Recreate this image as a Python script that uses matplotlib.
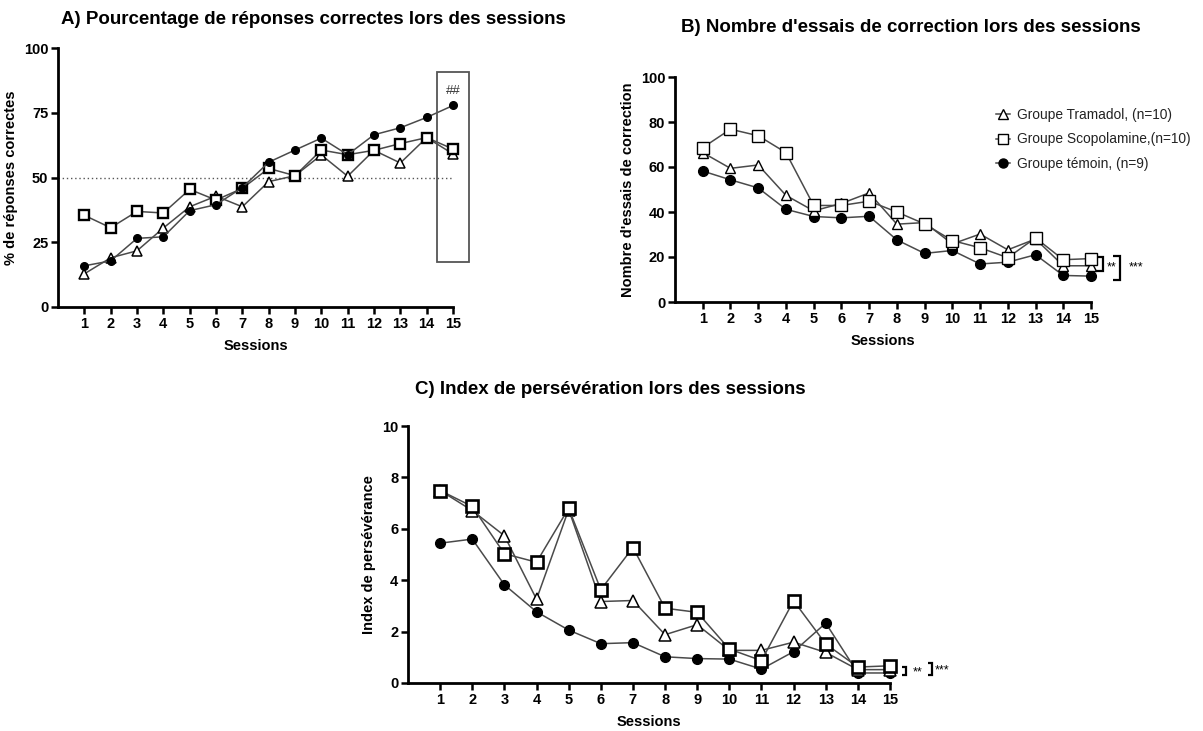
import matplotlib
matplotlib.use("Agg")
import matplotlib.pyplot as plt
from matplotlib.patches import Rectangle

plt.rcParams['font.family'] = ['Liberation Sans', 'DejaVu Sans']

sessions = list(range(1, 16))

# A) % correct responses
a_temoin = [15.9, 17.8, 26.5, 27.1, 37.2, 39.5, 46.1, 55.9, 60.6, 65.2, 58.8, 66.5, 69.2, 73.2, 77.8]
a_scopo = [35.4, 30.6, 36.9, 36.3, 45.4, 41.3, 45.8, 53.5, 50.7, 60.6, 58.8, 60.5, 63.1, 65.4, 61.0]
a_trama = [12.8, 19.0, 21.7, 30.5, 38.7, 42.8, 38.7, 48.4, 50.7, 58.7, 50.5, 60.5, 55.6, 65.4, 59.1]

# B) correction trials
b_temoin = [58.2, 54.3, 50.7, 41.2, 38.0, 37.4, 38.1, 27.6, 21.6, 22.9, 16.9, 17.7, 21.0, 11.8, 11.5]
b_scopo = [68.6, 76.8, 73.9, 66.4, 42.9, 42.9, 44.8, 40.0, 34.7, 27.3, 24.1, 19.7, 28.5, 18.8, 19.3]
b_trama = [66.4, 59.4, 60.9, 47.4, 40.5, 43.8, 48.5, 34.6, 35.3, 25.8, 30.2, 23.2, 28.0, 16.1, 16.1]

# C) perseveration index
c_temoin = [5.44, 5.60, 3.82, 2.77, 2.06, 1.53, 1.57, 1.02, 0.95, 0.93, 0.54, 1.22, 2.33, 0.39, 0.39]
c_scopo = [7.49, 6.87, 5.03, 4.70, 6.80, 3.63, 5.27, 2.91, 2.75, 1.32, 0.87, 3.20, 1.52, 0.62, 0.67]
c_trama = [7.49, 6.71, 5.73, 3.26, 6.75, 3.17, 3.21, 1.88, 2.27, 1.27, 1.27, 1.59, 1.19, 0.52, 0.52]

labels = ["Groupe Tramadol, (n=10)", "Groupe Scopolamine,(n=10)", "Groupe témoin, (n=9)"]

W, H = 1203, 731
fig = plt.figure(figsize=(W / 100, H / 100), dpi=100)


def px_axes(left, right, top, bottom):
    return fig.add_axes([left / W, 1 - bottom / H, (right - left) / W, (bottom - top) / H])


def style(ax, ymax, ystep, ylabel):
    ax.set_xlim(0, 15)
    ax.set_ylim(0, ymax)
    ax.set_xticks(sessions)
    ax.set_yticks(range(0, ymax + 1, ystep))
    for s in ['top', 'right']:
        ax.spines[s].set_visible(False)
    for s in ['left', 'bottom']:
        ax.spines[s].set_linewidth(2.0)
    ax.tick_params(width=1.8, length=5, labelsize=10.5, pad=2)
    for t in ax.get_xticklabels() + ax.get_yticklabels():
        t.set_fontweight('bold')
    ax.set_xlabel("Sessions", fontsize=10.5, fontweight='bold', labelpad=6)
    ax.set_ylabel(ylabel, fontsize=10.5, fontweight='bold', labelpad=4)


LC = '#4a4a4a'
common = dict(clip_on=False)

# ---------- Panel A ----------
axA = px_axes(58, 453, 48, 307)
axA.hlines(50, 0, 15, colors='#555555', linestyles=(0, (1, 2)), linewidth=1.0, zorder=1)
axA.plot(sessions, a_trama, '-', color=LC, lw=1.1, marker='^', ms=7, mfc='white', mec='black', mew=1.1, zorder=3, **common)
axA.plot(sessions, a_scopo, '-', color=LC, lw=1.1, marker='s', ms=7, mfc='white', mec='black', mew=1.7, zorder=4, **common)
axA.plot(sessions, a_temoin, '-', color=LC, lw=1.1, marker='o', ms=5.5, mfc='black', mec='black', zorder=5, **common)
axA.add_patch(Rectangle((14.4, 17.2), 1.22, 73.5, fill=False, ec='#555555', lw=1.3, clip_on=False, zorder=6))
axA.text(15.0, 83.5, "##", ha='center', va='center', fontsize=9.5, color='#333333')
style(axA, 100, 25, "% de réponses correctes")
fig.text(61 / W, 1 - 20 / H, "A) Pourcentage de réponses correctes lors des sessions",
         ha='left', va='center', fontsize=13.5, fontweight='bold')

# ---------- Panel B ----------
axB = px_axes(675, 1091, 77, 302)
lB1, = axB.plot(sessions, b_temoin, '-', color=LC, lw=1.1, marker='o', ms=7, mfc='black', mec='black', zorder=3, **common)
lB2, = axB.plot(sessions, b_trama, '-', color=LC, lw=1.1, marker='^', ms=7.5, mfc='white', mec='black', mew=1.0, zorder=4, **common)
lB3, = axB.plot(sessions, b_scopo, '-', color=LC, lw=1.1, marker='s', ms=8, mfc='white', mec='black', mew=1.0, zorder=5, **common)
style(axB, 100, 20, "Nombre d'essais de correction")
leg = axB.legend([lB2, lB3, lB1], labels, loc='upper left', bbox_to_anchor=((996 - 675) / 416, 1 - (108 - 77) / 225),
                 frameon=False, fontsize=9.9, handlelength=1.0, handletextpad=0.55, labelspacing=0.75,
                 borderaxespad=0, borderpad=0, labelcolor='#222222')
for ln in leg.get_lines():
    ln.set_markersize(6.5)
# brackets B
kw = dict(color='black', lw=1.6, clip_on=False, solid_joinstyle='miter', solid_capstyle='butt')
axB.plot([15.17, 15.42, 15.42, 15.17], [20.0, 20.0, 13.8, 13.8], **kw)
axB.plot([15.81, 16.06, 16.06, 15.81], [20.4, 20.4, 9.8, 9.8], **kw)
axB.text(15.75, 15.2, "**", ha='center', va='center', fontsize=9)
axB.text(16.35, 15.2, "***", ha='left', va='center', fontsize=9)
fig.text(681 / W, 1 - 27 / H, "B) Nombre d'essais de correction lors des sessions",
         ha='left', va='center', fontsize=13.5, fontweight='bold')

# ---------- Panel C ----------
axC = px_axes(408, 890, 426, 683)
axC.plot(sessions, c_temoin, '-', color=LC, lw=1.1, marker='o', ms=7, mfc='black', mec='black', zorder=3, **common)
axC.plot(sessions, c_trama, '-', color=LC, lw=1.1, marker='^', ms=8, mfc='white', mec='black', mew=1.1, zorder=4, **common)
axC.plot(sessions, c_scopo, '-', color=LC, lw=1.1, marker='s', ms=8, mfc='white', mec='black', mew=1.9, zorder=5, **common)
style(axC, 10, 2, "Index de persévérance")
axC.plot([15.38, 15.5, 15.5, 15.38], [0.62, 0.62, 0.31, 0.31], **kw)
axC.plot([16.18, 16.3, 16.3, 16.18], [0.78, 0.78, 0.31, 0.31], **kw)
axC.text(15.86, 0.42, "**", ha='center', va='center', fontsize=9)
axC.text(16.4, 0.50, "***", ha='left', va='center', fontsize=9)
fig.text(415 / W, 1 - 390 / H, "C) Index de persévération lors des sessions",
         ha='left', va='center', fontsize=13.5, fontweight='bold')

fig.savefig("out.png", dpi=100)
